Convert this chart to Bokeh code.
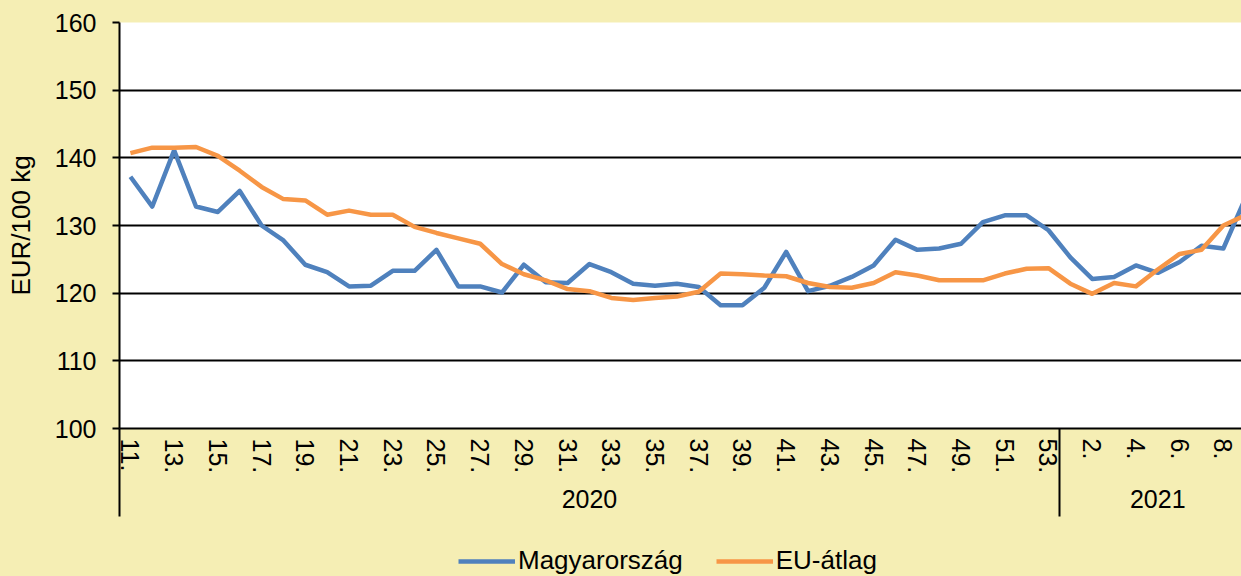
from bokeh.plotting import figure
from bokeh.layouts import column
from bokeh.models import (Range1d, FixedTicker, LinearAxis, Legend, LegendItem,
                          ColumnDataSource)
from bokeh.embed import file_html
from bokeh.resources import INLINE

# ---- data ----
years = ["2020", "2021"]
weeks_2020 = list(range(11, 54))   # 11. .. 53.
weeks_2021 = list(range(1, 10))    # 1. .. 9.
hungary = [137.2, 132.8, 141.1, 132.8, 132.0, 135.1, 130.0, 127.8, 124.2, 123.1,
           121.0, 121.1, 123.3, 123.3, 126.4, 121.0, 121.0, 120.1, 124.2, 121.6,
           121.5, 124.3, 123.1, 121.4, 121.1, 121.4, 120.9, 118.2, 118.2, 120.8,
           126.1, 120.3, 121.1, 122.4, 124.1, 127.9, 126.4, 126.6, 127.3, 130.5,
           131.5, 131.5, 129.3, 125.3, 122.1, 122.4, 124.1, 123.0, 124.6, 127.0,
           126.6, 134.0]
eu_avg = [140.7, 141.5, 141.5, 141.6, 140.3, 138.1, 135.7, 133.9, 133.7, 131.6,
          132.2, 131.6, 131.6, 129.8, 128.9, 128.1, 127.3, 124.3, 122.8, 121.9,
          120.6, 120.3, 119.3, 119.0, 119.3, 119.5, 120.2, 122.9, 122.8, 122.6,
          122.5, 121.5, 120.9, 120.8, 121.5, 123.1, 122.6, 121.9, 121.9, 121.9,
          122.9, 123.6, 123.7, 121.4, 119.9, 121.5, 121.0, 123.5, 125.8, 126.4,
          130.0, 131.5]
y_ticks = [100, 110, 120, 130, 140, 150, 160]
series_names = ["Magyarország", "EU-átlag"]

# ---- derived ----
week_labels = [f"{w}." for w in weeks_2020 + weeks_2021]
idx = list(range(len(week_labels)))
n20, n21 = len(weeks_2020), len(weeks_2021)
label_ticks = idx[::2]
group_bounds = [-0.5, n20 - 0.5]
group_centers = [(n20 - 1) / 2, n20 + (n21 - 1) / 2]

BG = "#F5EEB4"
BLUE = "#4F81BD"
ORANGE = "#F79646"
FONT = "Liberation Sans"
LW = 4.5

p = figure(width=1241, height=540, output_backend="svg", toolbar_location=None,
           x_range=Range1d(-0.5, 50.83), y_range=Range1d(100, 160),
           min_border_left=119, min_border_top=22, min_border_right=0,
           min_border_bottom=112)
p.background_fill_color = "white"
p.border_fill_color = BG
p.outline_line_color = None

src = ColumnDataSource(dict(x=idx, hu=hungary, eu=eu_avg))
r1 = p.line("x", "hu", source=src, line_color=BLUE, line_width=LW, line_join="round")
r2 = p.line("x", "eu", source=src, line_color=ORANGE, line_width=LW, line_join="round")

# y axis
ya = p.yaxis[0]
ya.ticker = FixedTicker(ticks=y_ticks)
ya.axis_line_color = "black"
ya.axis_line_width = 2
ya.major_tick_line_color = "black"
ya.major_tick_line_width = 2
ya.major_tick_out = 7
ya.major_tick_in = 0
ya.minor_tick_line_color = None
ya.major_label_text_font = FONT
ya.major_label_text_font_size = "25px"
ya.major_label_text_color = "black"
ya.major_label_standoff = 16
ya.axis_label = "EUR/100 kg"
ya.axis_label_text_font = FONT
ya.axis_label_text_font_size = "26px"
ya.axis_label_text_font_style = "normal"
ya.axis_label_text_color = "black"
ya.axis_label_standoff = 16

p.ygrid.grid_line_color = "black"
p.ygrid.grid_line_width = 2
p.ygrid.ticker = FixedTicker(ticks=y_ticks)
p.xgrid.grid_line_color = None

# x axis with week labels; minor ticks mark the year boundaries
xa = p.xaxis[0]
xa.ticker = FixedTicker(ticks=label_ticks, minor_ticks=group_bounds)
xa.major_label_overrides = {i: week_labels[i] for i in label_ticks}
xa.major_label_orientation = "vertical"
xa.major_label_text_font = FONT
xa.major_label_text_font_size = "25px"
xa.major_label_text_color = "black"
xa.axis_line_color = "black"
xa.axis_line_width = 2
xa.major_tick_line_color = None
xa.major_tick_out = 0
xa.major_tick_in = 0
xa.minor_tick_line_color = "black"
xa.minor_tick_line_width = 2
xa.minor_tick_out = 88
xa.minor_tick_in = 0
xa.major_label_standoff = 10 - 88

# year group labels
ga = LinearAxis(ticker=FixedTicker(ticks=group_centers),
                major_label_overrides={c: y for c, y in zip(group_centers, years)})
ga.axis_line_color = None
ga.major_tick_line_color = None
ga.minor_tick_line_color = None
ga.major_tick_out = 0
ga.major_tick_in = 0
ga.major_label_text_font = FONT
ga.major_label_text_font_size = "25px"
ga.major_label_text_color = "black"
ga.major_label_standoff = 13
p.add_layout(ga, "below")

# legend strip (frame aligned with the chart's frame)
lg = figure(width=1241, height=36, output_backend="svg", toolbar_location=None,
            x_range=Range1d(0, 1), y_range=Range1d(0, 1),
            min_border_left=119, min_border_top=0, min_border_right=0,
            min_border_bottom=0)
lg.axis.visible = False
lg.grid.visible = False
lg.outline_line_color = None
lg.background_fill_color = BG
lg.border_fill_color = BG
d1 = lg.line([0, 1], [-5, -5], line_color=BLUE, line_width=LW)
d2 = lg.line([0, 1], [-5, -5], line_color=ORANGE, line_width=LW)
legend = Legend(items=[LegendItem(label=series_names[0], renderers=[d1]),
                       LegendItem(label=series_names[1], renderers=[d2])],
                orientation="horizontal", location=(339, 0),
                glyph_width=57, glyph_height=26, label_height=26,
                label_standoff=3, spacing=33, padding=0, margin=0,
                label_text_font=FONT, label_text_font_size="26px",
                label_text_color="black",
                background_fill_alpha=0, border_line_alpha=0)
lg.add_layout(legend)

page = column(p, lg, spacing=0)
page.background = BG

open("out.html", "w").write(file_html(page, INLINE))
